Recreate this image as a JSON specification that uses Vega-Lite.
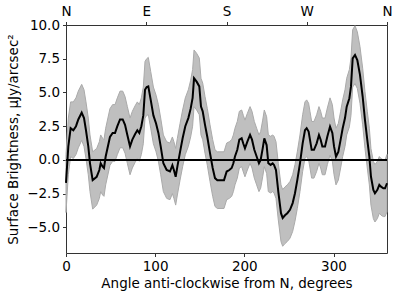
{
  "$schema": "https://vega.github.io/schema/vega-lite/v6.json",
  "width": 321,
  "height": 228,
  "autosize": "none",
  "padding": {"left": 66, "top": 25, "right": 12, "bottom": 44},
  "config": {
    "font": "DejaVu Sans",
    "view": {"stroke": "#333333", "strokeWidth": 1},
    "axis": {
      "grid": false,
      "domain": false,
      "tickColor": "#333333",
      "tickSize": 3.5,
      "labelFontSize": 13.5,
      "labelColor": "black",
      "labelOverlap": false,
      "labelFlush": false,
      "titleFontSize": 13.5,
      "titleFontWeight": "normal",
      "titleColor": "black",
      "labelPadding": 3
    }
  },
  "data": {
    "values": [
      {"a": 0, "y": -1.7, "lo": -3.9, "hi": 0.4},
      {"a": 2.6, "y": 1.0, "lo": -1.1, "hi": 3.1},
      {"a": 5.2, "y": 2.35, "lo": 0.25, "hi": 4.3},
      {"a": 8.2, "y": 2.2, "lo": 0.1, "hi": 4.3},
      {"a": 11.2, "y": 2.5, "lo": 0.4, "hi": 4.6},
      {"a": 13.8, "y": 3.0, "lo": 0.9, "hi": 5.1},
      {"a": 17.6, "y": 3.5, "lo": 1.45, "hi": 5.6},
      {"a": 20.2, "y": 3.1, "lo": 1.0, "hi": 5.2},
      {"a": 22.4, "y": 2.2, "lo": 0.1, "hi": 4.3},
      {"a": 25, "y": 1.0, "lo": -1.1, "hi": 3.1},
      {"a": 26.9, "y": -0.25, "lo": -2.35, "hi": 1.85},
      {"a": 29.9, "y": -1.5, "lo": -3.65, "hi": 0.6},
      {"a": 34.4, "y": -1.25, "lo": -3.35, "hi": 0.85},
      {"a": 37.4, "y": -0.75, "lo": -2.85, "hi": 1.35},
      {"a": 38.9, "y": -0.25, "lo": -2.35, "hi": 1.85},
      {"a": 41.1, "y": -0.5, "lo": -2.6, "hi": 1.6},
      {"a": 42.6, "y": -0.6, "lo": -2.7, "hi": 1.5},
      {"a": 44.5, "y": 0.25, "lo": -1.85, "hi": 2.35},
      {"a": 49.3, "y": 1.7, "lo": -0.4, "hi": 3.8},
      {"a": 52.3, "y": 2.0, "lo": -0.1, "hi": 4.1},
      {"a": 55, "y": 2.0, "lo": -0.1, "hi": 4.1},
      {"a": 57.6, "y": 2.5, "lo": 0.4, "hi": 4.6},
      {"a": 60.6, "y": 3.0, "lo": 0.9, "hi": 5.1},
      {"a": 63.6, "y": 3.0, "lo": 0.9, "hi": 5.1},
      {"a": 66.2, "y": 2.6, "lo": 0.5, "hi": 4.7},
      {"a": 68.8, "y": 1.85, "lo": -0.25, "hi": 3.95},
      {"a": 71.8, "y": 1.0, "lo": -1.1, "hi": 3.1},
      {"a": 74.4, "y": 1.5, "lo": -0.6, "hi": 3.6},
      {"a": 77.4, "y": 1.9, "lo": -0.2, "hi": 4.0},
      {"a": 80, "y": 2.2, "lo": 0.1, "hi": 4.3},
      {"a": 82.2, "y": 2.0, "lo": -0.1, "hi": 4.1},
      {"a": 84.5, "y": 2.5, "lo": 0.4, "hi": 4.6},
      {"a": 86.7, "y": 3.3, "lo": 1.2, "hi": 5.4},
      {"a": 88.6, "y": 5.2, "lo": 3.1, "hi": 7.3},
      {"a": 90.5, "y": 5.4, "lo": 3.3, "hi": 7.5},
      {"a": 92.3, "y": 5.45, "lo": 3.35, "hi": 7.6},
      {"a": 95, "y": 4.45, "lo": 2.35, "hi": 6.55},
      {"a": 98, "y": 3.3, "lo": 1.2, "hi": 5.4},
      {"a": 101, "y": 2.7, "lo": 0.6, "hi": 4.8},
      {"a": 103.6, "y": 2.0, "lo": -0.1, "hi": 4.1},
      {"a": 106.2, "y": 1.0, "lo": -1.1, "hi": 3.1},
      {"a": 109.2, "y": -0.25, "lo": -2.35, "hi": 1.85},
      {"a": 112.9, "y": -0.75, "lo": -2.85, "hi": 1.35},
      {"a": 116.6, "y": -0.86, "lo": -2.95, "hi": 1.25},
      {"a": 119.3, "y": -0.4, "lo": -2.5, "hi": 1.7},
      {"a": 121, "y": -0.75, "lo": -2.85, "hi": 1.35},
      {"a": 123, "y": -1.25, "lo": -3.35, "hi": 0.85},
      {"a": 124.9, "y": -0.5, "lo": -2.6, "hi": 1.6},
      {"a": 127.9, "y": 0.6, "lo": -1.5, "hi": 2.7},
      {"a": 130.8, "y": 1.6, "lo": -0.5, "hi": 3.7},
      {"a": 133.8, "y": 2.5, "lo": 0.4, "hi": 4.6},
      {"a": 137.2, "y": 3.1, "lo": 1.0, "hi": 5.2},
      {"a": 139.8, "y": 3.8, "lo": 1.7, "hi": 5.9},
      {"a": 142, "y": 4.6, "lo": 2.5, "hi": 6.7},
      {"a": 143.6, "y": 6.05, "lo": 3.95, "hi": 8.15},
      {"a": 146.5, "y": 5.8, "lo": 3.7, "hi": 7.9},
      {"a": 149.5, "y": 5.45, "lo": 3.35, "hi": 7.55},
      {"a": 151.4, "y": 3.95, "lo": 1.85, "hi": 6.05},
      {"a": 153.3, "y": 3.6, "lo": 1.5, "hi": 5.7},
      {"a": 155.9, "y": 2.6, "lo": 0.5, "hi": 4.7},
      {"a": 158.5, "y": 1.7, "lo": -0.4, "hi": 3.8},
      {"a": 161.5, "y": 0.5, "lo": -1.6, "hi": 2.6},
      {"a": 164.5, "y": -0.6, "lo": -2.7, "hi": 1.5},
      {"a": 167.1, "y": -1.35, "lo": -3.45, "hi": 0.75},
      {"a": 169.7, "y": -1.5, "lo": -3.6, "hi": 0.6},
      {"a": 172.7, "y": -1.5, "lo": -3.6, "hi": 0.6},
      {"a": 177.2, "y": -1.5, "lo": -3.6, "hi": 0.6},
      {"a": 180.2, "y": -0.86, "lo": -2.95, "hi": 1.25},
      {"a": 183.2, "y": -0.75, "lo": -2.85, "hi": 1.35},
      {"a": 185.8, "y": -0.6, "lo": -2.7, "hi": 1.5},
      {"a": 187.7, "y": -0.25, "lo": -2.35, "hi": 1.85},
      {"a": 189.5, "y": 0.25, "lo": -1.85, "hi": 2.35},
      {"a": 192.1, "y": 0.75, "lo": -1.35, "hi": 2.85},
      {"a": 194.4, "y": 1.5, "lo": -0.6, "hi": 3.6},
      {"a": 197, "y": 1.6, "lo": -0.5, "hi": 3.7},
      {"a": 198.9, "y": 1.2, "lo": -0.9, "hi": 3.3},
      {"a": 200.7, "y": 0.86, "lo": -1.25, "hi": 2.95},
      {"a": 203.4, "y": 1.36, "lo": -0.75, "hi": 3.45},
      {"a": 206.4, "y": 1.85, "lo": -0.25, "hi": 3.95},
      {"a": 208.6, "y": 1.5, "lo": -0.6, "hi": 3.6},
      {"a": 211.2, "y": 0.75, "lo": -1.35, "hi": 2.85},
      {"a": 213.8, "y": 0.25, "lo": -1.85, "hi": 2.35},
      {"a": 216.4, "y": -0.25, "lo": -2.35, "hi": 1.85},
      {"a": 218.3, "y": 0, "lo": -2.1, "hi": 2.1},
      {"a": 220.6, "y": 0.86, "lo": -1.25, "hi": 2.95},
      {"a": 222.4, "y": 1.6, "lo": -0.5, "hi": 3.7},
      {"a": 225, "y": 1.1, "lo": -1.0, "hi": 3.2},
      {"a": 226.9, "y": -0.25, "lo": -2.35, "hi": 1.85},
      {"a": 229.5, "y": -0.37, "lo": -2.45, "hi": 1.75},
      {"a": 231.8, "y": -0.25, "lo": -2.35, "hi": 1.85},
      {"a": 233.3, "y": -0.37, "lo": -2.45, "hi": 1.75},
      {"a": 235.5, "y": -0.75, "lo": -2.85, "hi": 1.35},
      {"a": 238.1, "y": -2.35, "lo": -4.45, "hi": -0.25},
      {"a": 241.1, "y": -3.95, "lo": -6.05, "hi": -1.85},
      {"a": 243, "y": -4.3, "lo": -6.4, "hi": -2.2},
      {"a": 245.6, "y": -4.1, "lo": -6.2, "hi": -2.0},
      {"a": 248.2, "y": -3.95, "lo": -6.05, "hi": -1.85},
      {"a": 251.2, "y": -3.7, "lo": -5.8, "hi": -1.6},
      {"a": 254.2, "y": -3.2, "lo": -5.3, "hi": -1.1},
      {"a": 256.8, "y": -2.47, "lo": -4.55, "hi": -0.35},
      {"a": 259.4, "y": -1.5, "lo": -3.6, "hi": 0.6},
      {"a": 262.4, "y": -0.25, "lo": -2.35, "hi": 1.85},
      {"a": 265.4, "y": 1.23, "lo": -0.85, "hi": 3.35},
      {"a": 268, "y": 2.2, "lo": 0.1, "hi": 4.3},
      {"a": 269.9, "y": 2.35, "lo": 0.25, "hi": 4.45},
      {"a": 272.1, "y": 2.1, "lo": 0.0, "hi": 4.2},
      {"a": 273.6, "y": 1.5, "lo": -0.6, "hi": 3.6},
      {"a": 275.5, "y": 0.75, "lo": -1.35, "hi": 2.85},
      {"a": 278.1, "y": 0.75, "lo": -1.35, "hi": 2.85},
      {"a": 281.1, "y": 1.23, "lo": -0.85, "hi": 3.35},
      {"a": 283.7, "y": 1.85, "lo": -0.25, "hi": 3.95},
      {"a": 285.6, "y": 1.5, "lo": -0.6, "hi": 3.6},
      {"a": 287.5, "y": 1.0, "lo": -1.1, "hi": 3.1},
      {"a": 290.5, "y": 1.0, "lo": -1.1, "hi": 3.1},
      {"a": 293.1, "y": 1.73, "lo": -0.35, "hi": 3.85},
      {"a": 296.1, "y": 2.47, "lo": 0.35, "hi": 4.6},
      {"a": 298.7, "y": 2.0, "lo": -0.1, "hi": 4.1},
      {"a": 300.6, "y": 1.0, "lo": -1.1, "hi": 3.1},
      {"a": 302.8, "y": 0.25, "lo": -1.85, "hi": 2.35},
      {"a": 305.4, "y": 0.6, "lo": -1.5, "hi": 2.7},
      {"a": 308, "y": 1.5, "lo": -0.6, "hi": 3.6},
      {"a": 310.3, "y": 2.35, "lo": 0.25, "hi": 4.45},
      {"a": 312.9, "y": 3.1, "lo": 1.0, "hi": 5.2},
      {"a": 314.8, "y": 3.95, "lo": 1.85, "hi": 6.05},
      {"a": 317.8, "y": 4.57, "lo": 2.45, "hi": 6.7},
      {"a": 319.6, "y": 5.43, "lo": 3.3, "hi": 7.55},
      {"a": 321.5, "y": 7.53, "lo": 5.4, "hi": 9.65},
      {"a": 324.1, "y": 7.78, "lo": 5.65, "hi": 9.95},
      {"a": 326.7, "y": 7.4, "lo": 5.3, "hi": 9.5},
      {"a": 329.7, "y": 6.3, "lo": 4.2, "hi": 8.4},
      {"a": 332.7, "y": 4.7, "lo": 2.6, "hi": 6.8},
      {"a": 335.3, "y": 2.96, "lo": 0.85, "hi": 5.05},
      {"a": 337.9, "y": 1.48, "lo": -0.6, "hi": 3.6},
      {"a": 340.2, "y": 0.25, "lo": -1.85, "hi": 2.35},
      {"a": 342, "y": -1.23, "lo": -3.35, "hi": 0.85},
      {"a": 344.7, "y": -2.22, "lo": -4.35, "hi": -0.1},
      {"a": 346.5, "y": -2.47, "lo": -4.6, "hi": -0.35},
      {"a": 349.2, "y": -2.22, "lo": -4.35, "hi": -0.1},
      {"a": 351.4, "y": -1.85, "lo": -3.95, "hi": 0.25},
      {"a": 353.3, "y": -1.98, "lo": -4.1, "hi": 0.1},
      {"a": 355.9, "y": -2.1, "lo": -4.2, "hi": 0.0},
      {"a": 357.8, "y": -2.1, "lo": -4.2, "hi": 0.0},
      {"a": 360, "y": -1.73, "lo": -3.85, "hi": 0.4}
    ]
  },
  "layer": [
    {
      "mark": {"type": "area", "color": "#bfbfbf", "opacity": 1, "stroke": "#aaaaaa", "strokeWidth": 1},
      "encoding": {
        "x": {
          "field": "a", "type": "quantitative",
          "scale": {"domain": [0, 360], "nice": false, "zero": false},
          "axis": {"orient": "bottom", "values": [0, 100, 200, 300], "format": "d", "title": "Angle anti-clockwise from N, degrees", "titlePadding": 3}
        },
        "y": {
          "field": "lo", "type": "quantitative",
          "scale": {"domain": [-6.9, 10], "nice": false, "zero": false},
          "axis": {"values": [-5, -2.5, 0, 2.5, 5, 7.5, 10], "format": ".1f", "titlePadding": 6},
          "title": "Surface Brightness, μJy/arcsec²"
        },
        "y2": {"field": "hi"}
      }
    },
    {
      "data": {"values": [{"z": 0}]},
      "mark": {"type": "rule", "color": "black", "strokeWidth": 2},
      "encoding": {
        "y": {"field": "z", "type": "quantitative", "title": "Surface Brightness, μJy/arcsec²",
          "axis": {"values": [-5, -2.5, 0, 2.5, 5, 7.5, 10], "format": ".1f", "titlePadding": 6}}
      }
    },
    {
      "mark": {"type": "line", "color": "black", "strokeWidth": 2},
      "encoding": {
        "x": {
          "field": "a", "type": "quantitative",
          "axis": {"orient": "top", "values": [0, 90, 180, 270, 360], "title": null,
            "labelExpr": "datum.value == 90 ? 'E' : datum.value == 180 ? 'S' : datum.value == 270 ? 'W' : 'N'"}
        },
        "y": {"field": "y", "type": "quantitative", "title": "Surface Brightness, μJy/arcsec²",
          "axis": {"values": [-5, -2.5, 0, 2.5, 5, 7.5, 10], "format": ".1f", "titlePadding": 6}}
      }
    }
  ],
  "resolve": {"axis": {"x": "independent"}}
}
